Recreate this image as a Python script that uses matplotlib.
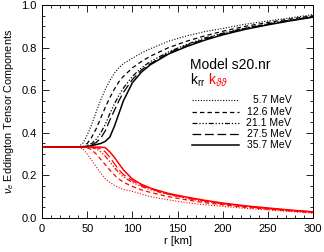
import numpy as np
import matplotlib
matplotlib.use("Agg")
import matplotlib.pyplot as plt
from matplotlib.ticker import MultipleLocator, FormatStrFormatter

plt.rcParams["font.family"] = ["Liberation Sans", "DejaVu Sans"]
plt.rcParams["mathtext.fontset"] = "custom"
plt.rcParams["mathtext.rm"] = "Liberation Sans"
plt.rcParams["mathtext.it"] = "Liberation Sans:italic"

# radius grid [km]
r = [0, 20, 40, 45, 50, 55, 60, 65, 70, 75, 80, 85, 90, 100, 110, 120,
     140, 160, 180, 200, 225, 250, 275, 300]

energies = ["5.7 MeV", "12.6 MeV", "21.1 MeV", "27.5 MeV", "35.7 MeV"]

# k_rr (black)
krr_57 = [0.333, 0.333, 0.333, 0.35, 0.39, 0.44, 0.50, 0.555, 0.605, 0.645, 0.68, 0.705,
          0.725, 0.75, 0.775, 0.795, 0.83, 0.855, 0.875, 0.89, 0.91, 0.925, 0.94, 0.955]
krr_126 = [0.333, 0.333, 0.333, 0.335, 0.35, 0.38, 0.42, 0.47, 0.52, 0.565, 0.605, 0.64,
           0.665, 0.705, 0.735, 0.76, 0.80, 0.83, 0.855, 0.877, 0.90, 0.918, 0.935, 0.95]
krr_211 = [0.333, 0.333, 0.333, 0.334, 0.34, 0.35, 0.37, 0.40, 0.44, 0.49, 0.535, 0.575,
           0.61, 0.665, 0.705, 0.735, 0.78, 0.815, 0.845, 0.868, 0.892, 0.912, 0.93, 0.946]
krr_275 = [0.333, 0.333, 0.333, 0.333, 0.338, 0.343, 0.355, 0.375, 0.41, 0.46, 0.505, 0.55,
           0.59, 0.65, 0.695, 0.725, 0.775, 0.81, 0.84, 0.865, 0.89, 0.91, 0.928, 0.944]
krr_357 = [0.333, 0.333, 0.333, 0.333, 0.335, 0.34, 0.345, 0.35, 0.36, 0.38, 0.43, 0.49,
           0.55, 0.635, 0.685, 0.72, 0.77, 0.805, 0.835, 0.86, 0.886, 0.907, 0.926, 0.943]

# k_thetatheta (red)
ktt_57 = [0.333, 0.333, 0.333, 0.325, 0.30, 0.27, 0.24, 0.21, 0.185, 0.167, 0.153, 0.142,
          0.134, 0.125, 0.112, 0.10, 0.085, 0.072, 0.062, 0.055, 0.045, 0.038, 0.03, 0.023]
ktt_126 = [0.333, 0.333, 0.333, 0.333, 0.33, 0.32, 0.30, 0.275, 0.25, 0.225, 0.202, 0.183,
           0.168, 0.148, 0.132, 0.12, 0.10, 0.085, 0.072, 0.062, 0.05, 0.041, 0.033, 0.025]
ktt_211 = [0.333, 0.333, 0.333, 0.333, 0.333, 0.33, 0.325, 0.31, 0.29, 0.265, 0.237, 0.213,
           0.193, 0.167, 0.148, 0.132, 0.11, 0.092, 0.078, 0.066, 0.054, 0.044, 0.035, 0.027]
ktt_275 = [0.333, 0.333, 0.333, 0.333, 0.333, 0.333, 0.33, 0.325, 0.31, 0.285, 0.255, 0.227,
           0.204, 0.175, 0.153, 0.137, 0.112, 0.095, 0.08, 0.068, 0.055, 0.045, 0.036, 0.028]
ktt_357 = [0.333, 0.333, 0.333, 0.333, 0.333, 0.333, 0.333, 0.333, 0.33, 0.31, 0.285, 0.255,
           0.226, 0.183, 0.158, 0.14, 0.115, 0.098, 0.083, 0.07, 0.057, 0.047, 0.037, 0.029]

krr = [krr_57, krr_126, krr_211, krr_275, krr_357]
ktt = [ktt_57, ktt_126, ktt_211, ktt_275, ktt_357]
styles = [(0, (1, 1.5)), (0, (3.5, 2.5)), (0, (4, 1.5, 1, 1.5, 1, 1.5, 1, 1.5)),
          (0, (7, 3)), "-"]
widths = [0.8, 0.9, 0.9, 0.9, 1.1]

fig = plt.figure(figsize=(3.24, 2.52), dpi=100)
ax = fig.add_axes([0.130, 0.135, 0.836, 0.845])

for kr, kt, ls, lw in zip(krr, ktt, styles, widths):
    ax.plot(r, kr, color="black", ls=ls, lw=lw)
    ax.plot(r, kt, color="red", ls=ls, lw=lw)

ax.set_xlim(0, 300)
ax.set_ylim(0, 1)
ax.xaxis.set_major_locator(MultipleLocator(50))
ax.xaxis.set_minor_locator(MultipleLocator(10))
ax.yaxis.set_major_locator(MultipleLocator(0.2))
ax.yaxis.set_minor_locator(MultipleLocator(0.05))
ax.yaxis.set_major_formatter(FormatStrFormatter("%.1f"))
ax.tick_params(which="both", direction="in", top=True, right=True, labelsize=8, width=0.6)
ax.tick_params(which="major", length=5, pad=4)
ax.tick_params(which="minor", length=2.5)
for s in ax.spines.values():
    s.set_linewidth(0.7)

ax.set_xlabel("r [km]", fontsize=8, labelpad=2)
ax.set_ylabel(r"$\nu_e$ Eddington Tensor Components", fontsize=7.8, labelpad=4)

# legend block drawn by hand (IDL style)
ax.text(164, 0.70, "Model s20.nr", fontsize=10)
ax.text(164, 0.625, r"k$_{\mathrm{rr}}$", fontsize=10)
ax.text(184, 0.625, r"k$_{\vartheta\vartheta}$", fontsize=10, color="red")
ys = [0.555, 0.50, 0.447, 0.394, 0.341]
for lab, ls, lw, yy in zip(energies, styles, widths, ys):
    ax.plot([166, 218], [yy, yy], color="black", ls=ls, lw=lw)
    ax.text(276, yy, lab, fontsize=7.5, ha="right", va="center")

fig.savefig("out.png", dpi=100)
